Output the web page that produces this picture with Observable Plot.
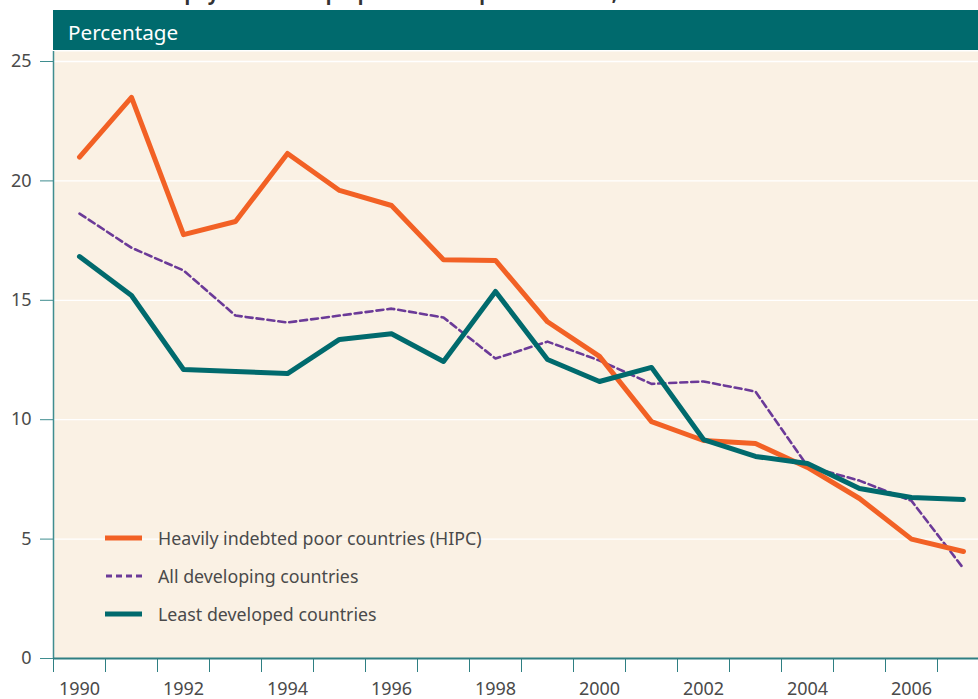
<!DOCTYPE html>
<html><head><meta charset="utf-8">
<script src="https://cdn.jsdelivr.net/npm/d3@7"></script>
<script src="https://cdn.jsdelivr.net/npm/@observablehq/plot@0.6"></script>
<style>
body{margin:0;width:978px;height:699px;overflow:hidden;background:#fff;font-family:"Noto Sans",sans-serif;position:relative}
#chart{position:absolute;left:0;top:0}
#title{position:absolute;left:62px;top:-20px;font-weight:bold;font-size:19px;color:#333;white-space:nowrap}
#header{position:absolute;left:53px;top:10px;width:925px;height:40px;background:#006a6d;color:#fff;font-size:20.7px;line-height:44px;padding-left:15px;box-sizing:border-box}
#legend{position:absolute;left:105px;top:521px;font-size:17.8px;color:#4a4a4a}
#legend .row{display:flex;align-items:center;height:34px;margin-bottom:4px}
#legend svg{width:40px;height:10px;margin-right:13px}
</style></head>
<body>
<div id="chart"></div>
<div id="title">Debt service payments as a proportion of export revenues, 1990-2007</div>
<div id="header">Percentage</div>
<div id="legend"></div>
<script>
const years = [1990,1991,1992,1993,1994,1995,1996,1997,1998,1999,2000,2001,2002,2003,2004,2005,2006,2007];
const hipc  = [21.0,23.5,17.75,18.3,21.15,19.6,18.97,16.7,16.67,14.1,12.65,9.92,9.13,9.0,8.0,6.7,5.0,4.48];
const allDev= [18.63,17.2,16.25,14.36,14.07,14.36,14.65,14.28,12.56,13.27,12.48,11.5,11.6,11.18,8.05,7.45,6.6,3.77];
const ldc   = [16.83,15.2,12.1,12.02,11.93,13.36,13.6,12.44,15.37,12.52,11.6,12.19,9.17,8.46,8.17,7.12,6.74,6.66];
const seriesNames = ["Heavily indebted poor countries (HIPC)","All developing countries","Least developed countries"];
const seriesColors = ["#f26125","#6b3a98","#006a6d"];
const yTicks = [0,5,10,15,20,25];
const labelYears = [1990,1992,1994,1996,1998,2000,2002,2004,2006];
const tickBounds = [1989.5,1990.5,1991.5,1992.5,1993.5,1994.5,1995.5,1996.5,1997.5,1998.5,1999.5,2000.5,2001.5,2002.5,2003.5,2004.5,2005.5,2006.5,2007.5];

const rows = (vals, name) => years.map((y,i)=>({year:y, value:vals[i], series:name}));
const dHipc = rows(hipc, seriesNames[0]);
const dAll = rows(allDev, seriesNames[1]);
const dLdc = rows(ldc, seriesNames[2]);

const chart = Plot.plot({
  width: 978, height: 699,
  marginLeft: 53, marginTop: 51, marginBottom: 41, marginRight: 0,
  x: {domain: [1989.5, 2007.5], range: [53, 989]},
  y: {domain: [0, 25], range: [658, 61]},
  style: {fontFamily: '"Noto Sans", sans-serif', fontSize: "18px", color: "#4a4a4a", background: "transparent", overflow: "hidden"},
  marks: [
    Plot.frame({fill: "#faf1e4", stroke: null}),
    Plot.gridY(yTicks.filter(d=>d>0), {stroke: "#ffffff", strokeOpacity: 1, strokeWidth: 1.3}),
    Plot.axisY(yTicks, {tickSize: 13, tickPadding: 9, stroke: "#3f8d8f", fill: "#4a4a4a", label: null}),
    Plot.axisX(tickBounds, {tickSize: 14, tickFormat: () => "", stroke: "#2e7f82", label: null}),
    Plot.axisX(labelYears, {tickSize: 0, tickPadding: 24, tickFormat: d => String(d), fill: "#4a4a4a", label: null}),
    Plot.ruleX([1989.5], {stroke: "#3f8d8f", strokeWidth: 1.5}),
    Plot.ruleY([0], {stroke: "#2e7f82", strokeWidth: 2}),
    Plot.line(dAll, {x: "year", y: "value", stroke: seriesColors[1], strokeWidth: 2.6, strokeDasharray: "7,4"}),
    Plot.line(dHipc, {x: "year", y: "value", stroke: seriesColors[0], strokeWidth: 5}),
    Plot.line(dLdc, {x: "year", y: "value", stroke: seriesColors[2], strokeWidth: 5})
  ]
});
document.getElementById("chart").appendChild(chart);

const legend = document.getElementById("legend");
seriesNames.forEach((name, i) => {
  const row = document.createElement("div");
  row.className = "row";
  const dash = i === 1 ? 'stroke-dasharray="6,4" stroke-width="3"' : 'stroke-width="5"';
  row.innerHTML = `<svg viewBox="0 0 40 10"><line x1="${i===1?1:0}" x2="37" y1="5" y2="5" stroke="${seriesColors[i]}" ${dash}/></svg><span>${name}</span>`;
  legend.appendChild(row);
});
</script>
</body></html>
